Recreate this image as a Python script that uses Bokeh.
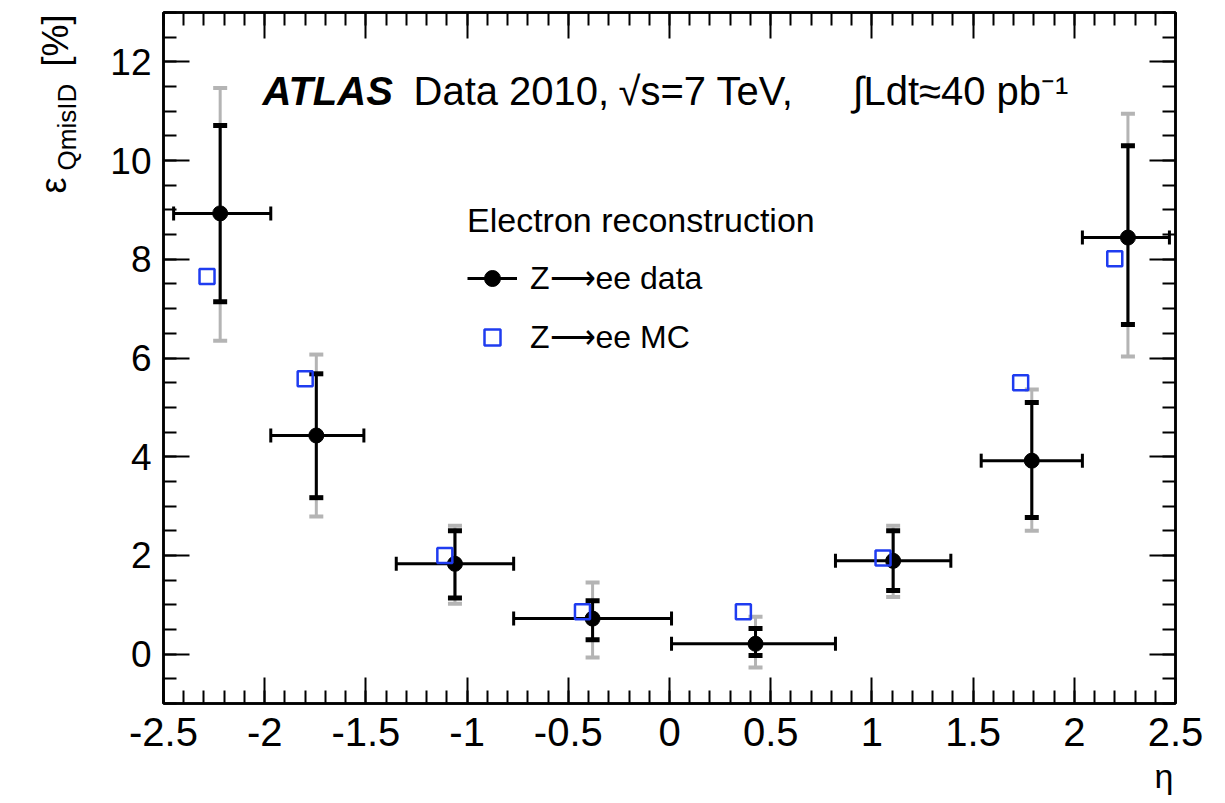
import math
import numpy as np
from bokeh.plotting import figure
from bokeh.layouts import row
from bokeh.core.properties import value
from bokeh.models import (FixedTicker, LinearAxis, Label, Legend, LegendItem, Range1d, Title)
from bokeh.embed import file_html
from bokeh.resources import INLINE

# ---- data ----
eta = [-2.22, -1.745, -1.06, -0.38, 0.425, 1.105, 1.79, 2.265]
eta_lo = [-2.45, -1.97, -1.35, -0.77, 0.01, 0.82, 1.54, 2.04]
eta_hi = [-1.97, -1.51, -0.77, 0.01, 0.82, 1.39, 2.04, 2.47]
eff = [8.93, 4.43, 1.83, 0.72, 0.21, 1.89, 3.92, 8.44]
stat_hi = [10.71, 5.68, 2.50, 1.08, 0.52, 2.50, 5.10, 10.30]
stat_lo = [7.14, 3.17, 1.14, 0.29, -0.03, 1.29, 2.77, 6.68]
tot_hi = [11.47, 6.07, 2.60, 1.45, 0.76, 2.60, 5.36, 10.95]
tot_lo = [6.35, 2.79, 1.02, -0.07, -0.27, 1.16, 2.50, 6.03]
mc_eta = [-2.285, -1.80, -1.11, -0.43, 0.365, 1.055, 1.735, 2.20]
mc_eff = [7.65, 5.58, 2.00, 0.86, 0.86, 1.95, 5.50, 8.01]

x_ticks = [-2.5, -2.0, -1.5, -1.0, -0.5, 0.0, 0.5, 1.0, 1.5, 2.0, 2.5]
x_tick_labels = ["-2.5", "-2", "-1.5", "-1", "-0.5", "0", "0.5", "1", "1.5", "2", "2.5"]
y_ticks = [0, 2, 4, 6, 8, 10, 12]
y_tick_labels = ["0", "2", "4", "6", "8", "10", "12"]

FONT = "Liberation Sans"
GREY = "#b4b4b4"
BLUE = "#1f3cf0"

x_minor = [round(v, 2) for v in np.arange(-2.5, 2.501, 0.1)]
y_minor = [round(v, 2) for v in np.arange(-1.0, 13.01, 0.5)]

LEFT_W = 90
TOP_B, BOT_B = 12, 100
p = figure(width=1225 - LEFT_W, height=803, x_range=Range1d(-2.5, 2.5), y_range=Range1d(-1, 13),
           output_backend="svg", toolbar_location=None,
           min_border_left=163 - LEFT_W, min_border_right=50, min_border_top=TOP_B,
           min_border_bottom=BOT_B,
           background_fill_color="white", border_fill_color="white")
p.xgrid.visible = False
p.ygrid.visible = False
p.outline_line_color = "black"
p.outline_line_width = 2.5


def style_axis(ax, ticks, minor, labels, size="36px", show_labels=True):
    ax.ticker = FixedTicker(ticks=ticks, minor_ticks=minor)
    ax.major_tick_in = 26
    ax.major_tick_out = 0
    ax.minor_tick_in = 13
    ax.minor_tick_out = 0
    ax.major_tick_line_width = 2
    ax.minor_tick_line_width = 2
    ax.major_tick_line_color = "black"
    ax.minor_tick_line_color = "black"
    ax.axis_line_width = 2.5
    ax.axis_line_color = "black"
    if show_labels:
        ax.major_label_overrides = {float(t): s for t, s in zip(ticks, labels)}
        ax.major_label_text_font = FONT
        ax.major_label_text_font_size = size
        ax.major_label_text_color = "black"
    else:
        ax.major_label_text_font_size = "1px"
        ax.major_label_text_color = None
        ax.major_label_standoff = 0


style_axis(p.xaxis[0], x_ticks, x_minor, x_tick_labels, size="40px")
p.xaxis[0].major_label_standoff = 14
style_axis(p.yaxis[0], y_ticks, y_minor, y_tick_labels, size="37px")
p.yaxis[0].major_label_standoff = 12

top = LinearAxis()
style_axis(top, x_ticks, x_minor, x_tick_labels, show_labels=False)
p.add_layout(top, "above")
right = LinearAxis()
style_axis(right, y_ticks, y_minor, y_tick_labels, show_labels=False)
p.add_layout(right, "right")

# x-axis title (eta), right aligned under the axis
p.add_layout(Title(text="\u03B7", align="right", offset=2, standoff=12,
                   text_font=FONT, text_font_size="34px", text_font_style="normal",
                   text_color="black"), "below")

# ---- total uncertainty (grey) ----
p.segment(eta, tot_lo, eta, tot_hi, line_color=GREY, line_width=3)
p.scatter(eta, tot_hi, marker="dash", size=14, line_color=GREY, line_width=4)
p.scatter(eta, tot_lo, marker="dash", size=14, line_color=GREY, line_width=4)

# ---- statistical uncertainty (black) ----
p.segment(eta, stat_lo, eta, stat_hi, line_color="black", line_width=3)
p.scatter(eta, stat_hi, marker="dash", size=14, line_color="black", line_width=5)
p.scatter(eta, stat_lo, marker="dash", size=14, line_color="black", line_width=5)

# ---- bin widths ----
hseg = p.segment(eta_lo, eff, eta_hi, eff, line_color="black", line_width=3)
p.scatter(eta_lo, eff, marker="dash", angle=math.pi / 2, size=14, line_color="black", line_width=3)
p.scatter(eta_hi, eff, marker="dash", angle=math.pi / 2, size=14, line_color="black", line_width=3)

pts = p.scatter(eta, eff, marker="circle", size=15, fill_color="black", line_color="black")

mc = p.scatter(mc_eta, mc_eff, marker="square", size=15, fill_color=None,
               line_color=BLUE, line_width=2.5)

legend = Legend(items=[LegendItem(label="Z\u27F6ee data", renderers=[hseg, pts]),
                       LegendItem(label="Z\u27F6ee MC", renderers=[mc])],
                title="Electron reconstruction",
                location=(304, 346),
                background_fill_alpha=0, border_line_color=None,
                padding=0, margin=0, spacing=19,
                glyph_width=50, glyph_height=40, label_height=40,
                label_standoff=13, title_standoff=18,
                label_text_font=FONT, label_text_font_size="32px", label_text_color="black",
                title_text_font=FONT, title_text_font_size="34px",
                title_text_font_style="normal", title_text_color="black")
p.add_layout(legend)

# ---- header text (positions in px relative to frame bottom-left) ----
FL, FB = 163, 703


def lab(text, X, Y, size, style="normal"):
    p.add_layout(Label(x=X - FL, y=FB - Y, x_units="screen", y_units="screen", text=text,
                       text_font=FONT, text_font_size=size, text_font_style=style,
                       text_align="left", text_baseline="alphabetic", text_color="black"))


lab("ATLAS", 262, 90, "40px", "bold italic")
lab("Data 2010,", 413, 90, "40px")
lab("\u221As=7 TeV,", 618, 90, "40px")
lab("\u222BLdt\u224840 pb\u207B\u00B9", 852, 90, "40px")

# ---- y-axis title in a narrow strip on the left (data units = canvas pixels) ----
side = figure(width=LEFT_W, height=803, x_range=Range1d(0, LEFT_W),
              y_range=Range1d(803 - (803 - BOT_B), 803 - TOP_B),
              output_backend="svg", toolbar_location=None, x_axis_type=None, y_axis_type=None,
              min_border_left=0, min_border_right=0, min_border_top=TOP_B,
              min_border_bottom=BOT_B, outline_line_color=None,
              background_fill_color="white", border_fill_color="white")
side.xgrid.visible = False
side.ygrid.visible = False

ylab_text = ["\u03B5", "QmisID", "[%]"]
ylab_X = [53, 66, 55]
ylab_Y = [193, 170, 66]
ylab_size = ["36px", "26px", "36px"]
for t, X, Y, s in zip(ylab_text, ylab_X, ylab_Y, ylab_size):
    side.text(x=[X], y=[803 - Y], text=[t], angle=math.pi / 2,
              text_font=value(FONT), text_font_size=s, text_color="black",
              text_align="left", text_baseline="alphabetic")

layout = row(side, p, spacing=0)
open("out.html", "w").write(file_html(layout, INLINE))
